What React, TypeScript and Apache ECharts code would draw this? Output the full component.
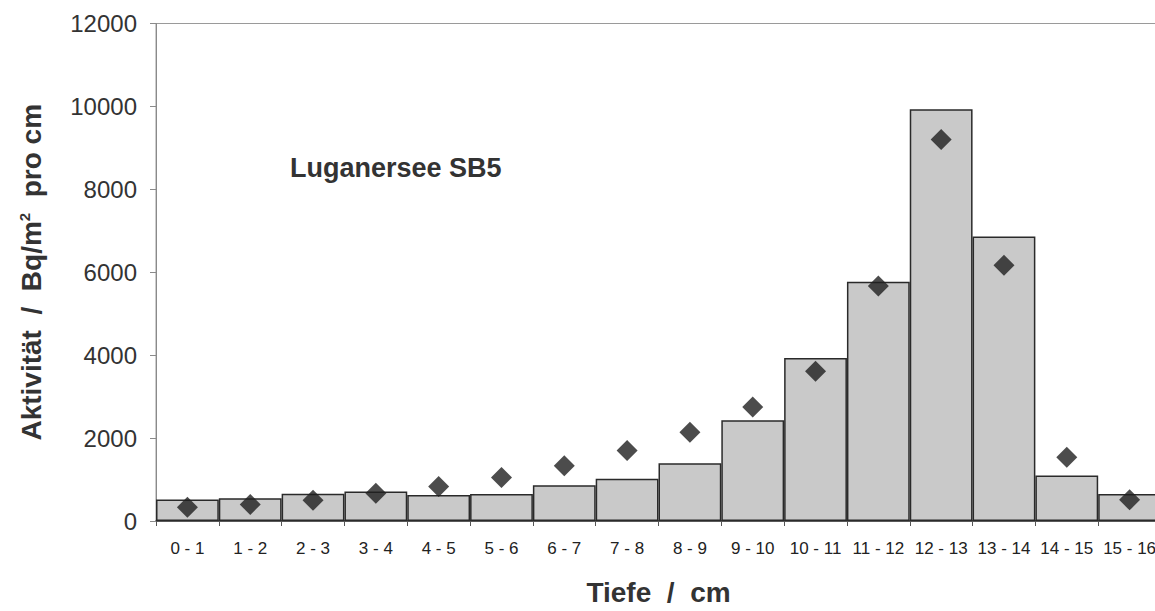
import React, { useEffect, useRef } from "react";
import * as echarts from "echarts";

const categories = [
  "0 - 1", "1 - 2", "2 - 3", "3 - 4", "4 - 5", "5 - 6", "6 - 7", "7 - 8",
  "8 - 9", "9 - 10", "10 - 11", "11 - 12", "12 - 13", "13 - 14", "14 - 15", "15 - 16",
];
const barValues = [520, 550, 660, 710, 630, 650, 860, 1020, 1390, 2430, 3930, 5770, 9930, 6860, 1100, 650];
const diamondValues = [330, 400, 500, 670, 830, 1050, 1330, 1700, 2140, 2750, 3610, 5670, 9200, 6170, 1540, 510];
const yMin = 0;
const yMax = 12000;
const yInterval = 2000;

const FONT = "'Liberation Sans', Arial, sans-serif";

export default function App() {
  const ref = useRef<HTMLDivElement>(null);
  useEffect(() => {
    if (!ref.current) return;
    const chart = echarts.init(ref.current, undefined, { renderer: "svg" });
    chart.setOption({
      animation: false,
      backgroundColor: "#ffffff",
      title: {
        text: "Luganersee SB5",
        left: 290,
        top: 154,
        padding: 0,
        textStyle: { fontSize: 27, fontWeight: "bold", color: "#333", fontFamily: FONT },
      },
      grid: {
        left: 156,
        width: 1005,
        top: 23.5,
        height: 504,
        show: true,
        borderColor: "#9a9a9a",
        borderWidth: 1,
        backgroundColor: "transparent",
      },
      xAxis: {
        type: "category",
        data: categories,
        boundaryGap: true,
        name: "Tiefe  /  cm",
        nameLocation: "middle",
        nameGap: 57,
        nameTextStyle: { fontSize: 28, fontWeight: "bold", color: "#333", fontFamily: FONT },
        axisLine: { lineStyle: { color: "#333", width: 1.5 } },
        axisTick: { show: true, length: 5, lineStyle: { color: "#555" } },
        axisLabel: { interval: 0, fontSize: 17, color: "#222", margin: 19, fontFamily: FONT },
        splitLine: { show: false },
      },
      yAxis: {
        type: "value",
        min: yMin,
        max: yMax,
        interval: yInterval,
        name: "Aktivität  /  Bq/m{sup|2}  pro cm",
        nameLocation: "middle",
        nameRotate: 90,
        nameGap: 110,
        nameTextStyle: {
          fontSize: 28,
          fontWeight: "bold",
          color: "#333",
          fontFamily: FONT,
          rich: {
            sup: { fontSize: 15, fontWeight: "bold", color: "#333", fontFamily: FONT, verticalAlign: "top", padding: [0, 0, 14, 0] },
          },
        },
        axisLine: { show: true, lineStyle: { color: "#8a8a8a", width: 1 } },
        axisTick: { show: true, length: 6, lineStyle: { color: "#8a8a8a" } },
        axisLabel: {
          fontSize: 24,
          color: "#333",
          margin: 19,
          fontFamily: FONT,
          formatter: (v: number) => String(v),
        },
        splitLine: { show: false },
      },
      series: [
        {
          type: "bar",
          data: barValues,
          barWidth: "100%",
          barCategoryGap: "0%",
          itemStyle: { color: "#c9c9c9", borderColor: "#2a2a2a", borderWidth: 1.5 },
          z: 2,
        },
        {
          type: "scatter",
          data: diamondValues,
          symbol: "diamond",
          symbolSize: 21,
          itemStyle: { color: "#1f1f1f" },
          z: 3,
        },
      ],
    });
    return () => chart.dispose();
  }, []);
  return (
    <div style={{ position: "absolute", left: 0, top: 0, width: 1155, height: 611, overflow: "hidden", background: "#fff" }}>
      <div ref={ref} style={{ width: 1170, height: 611 }} />
    </div>
  );
}
